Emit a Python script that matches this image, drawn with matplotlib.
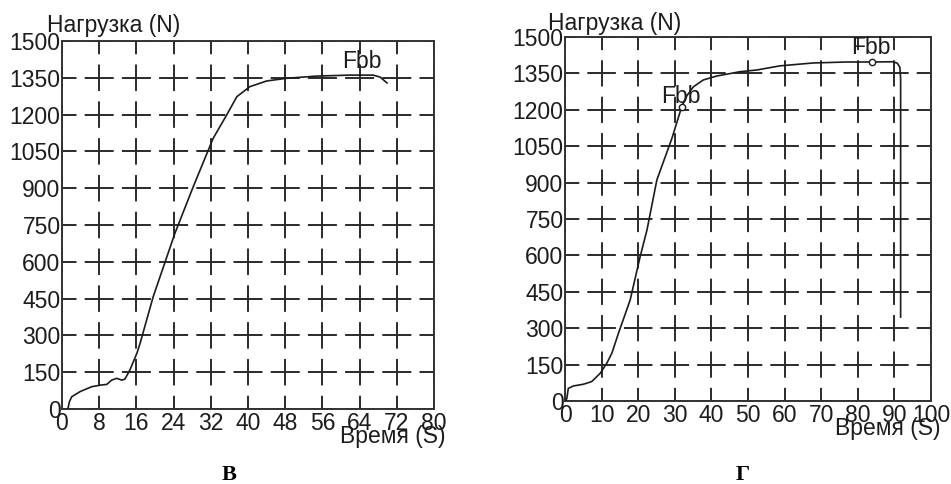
import matplotlib
matplotlib.use('Agg')
import matplotlib.pyplot as plt

plt.rcParams['font.family'] = ['Liberation Sans', 'DejaVu Sans']
plt.rcParams['lines.scale_dashes'] = False

# ------------------------------------------------------------
# Load curves (time in s, load in N)
# ------------------------------------------------------------
# panel В
t_b = [1.3, 1.6, 2.1, 3.9, 6.4, 8.5, 9.6, 10.7, 11.8, 12.8, 13.5, 14.6, 16.1,
       16.8, 19.6, 24.3, 28.2, 32.5, 35.4, 37.6, 40.4, 44.0, 48.3, 54.8,
       62.0, 66.9, 68.4, 69.9]
n_b = [4, 30, 50, 71, 91, 98, 100, 118, 125, 118, 121, 159, 227,
       268, 457, 717, 905, 1103, 1198, 1273, 1314, 1337, 1348, 1357,
       1361, 1361, 1353, 1329]
fbb_b = (64.5, 1415)

# panel Г
t_g = [0.3, 0.5, 0.9, 2.3, 5.0, 7.3, 9.6, 11.4, 12.8, 14.6, 17.8, 20.5, 22.4,
       25.1, 29.2, 31.9, 33.3, 35.1, 37.8, 41.4, 47.8, 52.4, 58.7, 67.8, 77.0,
       84.4, 89.6, 90.8, 91.5, 91.7, 91.7]
n_g = [4, 11, 52, 62, 69, 80, 114, 155, 197, 279, 416, 593, 705,
       911, 1082, 1213, 1258, 1295, 1323, 1339, 1357, 1364, 1381, 1393, 1397,
       1397, 1398, 1392, 1375, 1330, 346]
fbb_g_points = [(31.9, 1213), (84.0, 1396)]
fbb_g_labels = [(31.7, 1255), (83.7, 1457)]

xticks_b = list(range(0, 81, 8))
xticks_g = list(range(0, 101, 10))
yticks = list(range(0, 1501, 150))

INK = '#1c1c1c'
GRID = '#2a2a2a'
FS = 16.5
DPI = 100
W, H = 951, 484


def dashed_grid(ax, w_px, h_px, nx, ny):
    # dashes centred on each grid crossing, period = cell size
    px2pt = 72.0 / DPI
    for axis, cell, frac in ((ax.yaxis, w_px / nx, 0.78), (ax.xaxis, h_px / ny, 0.72)):
        period = cell * px2pt
        on, off = frac * period, (1 - frac) * period
        axis.grid(True, color=GRID, linewidth=1.4, linestyle=(on / 2, (on, off)))


def panel(rect_px, t, n, xticks, xmax):
    x0, y0, x1, y1 = rect_px
    ax = fig.add_axes([x0 / W, 1 - y1 / H, (x1 - x0) / W, (y1 - y0) / H])
    ax.plot(t, n, color=INK, linewidth=1.2, zorder=3)
    ax.set_xlim(0, xmax)
    ax.set_ylim(0, 1500)
    ax.set_xticks(xticks)
    ax.set_yticks(yticks)
    ax.tick_params(length=0, labelsize=FS, colors=INK, pad=2)
    ax.tick_params(axis='y', pad=1)
    for s in ax.spines.values():
        s.set_color('#333333')
        s.set_linewidth(1.4)
    dashed_grid(ax, x1 - x0, y1 - y0, len(xticks) - 1, len(yticks) - 1)
    ax.set_axisbelow(True)
    return ax


fig = plt.figure(figsize=(W / DPI, H / DPI), dpi=DPI)

# ------------------------------------------------------------
# Panel В
# ------------------------------------------------------------
ax1 = panel((62, 41, 434, 409), t_b, n_b, xticks_b, 80)
ax1.text(fbb_b[0], fbb_b[1], 'Fbb', fontsize=FS, color=INK, ha='center', va='center')
ax1.text(-0.040, 1.024, 'Нагрузка (N)', transform=ax1.transAxes, fontsize=FS,
         color=INK, ha='left', va='baseline')
ax1.text(1.03, -0.092, 'Время (S)', transform=ax1.transAxes, fontsize=FS,
         color=INK, ha='right', va='baseline')

# ------------------------------------------------------------
# Panel Г
# ------------------------------------------------------------
ax2 = panel((565, 37, 931, 401), t_g, n_g, xticks_g, 100)
ax2.plot([p[0] for p in fbb_g_points], [p[1] for p in fbb_g_points], 'o', ms=4.5,
         mfc='white', mec=INK, mew=1.0, zorder=4)
for x, y in fbb_g_labels:
    ax2.text(x, y, 'Fbb', fontsize=FS, color=INK, ha='center', va='center', zorder=5)
ax2.text(-0.046, 1.019, 'Нагрузка (N)', transform=ax2.transAxes, fontsize=FS,
         color=INK, ha='left', va='baseline')
ax2.text(1.025, -0.093, 'Время (S)', transform=ax2.transAxes, fontsize=FS,
         color=INK, ha='right', va='baseline')

# panel letters
fig.text(229 / W, 1 - 475 / H, 'В', fontsize=16, fontweight='bold',
         family='Liberation Serif', ha='center', va='center', color='black')
fig.text(743 / W, 1 - 475 / H, 'Г', fontsize=16, fontweight='bold',
         family='Liberation Serif', ha='center', va='center', color='black')

fig.savefig('out.png', dpi=DPI, facecolor='white')
